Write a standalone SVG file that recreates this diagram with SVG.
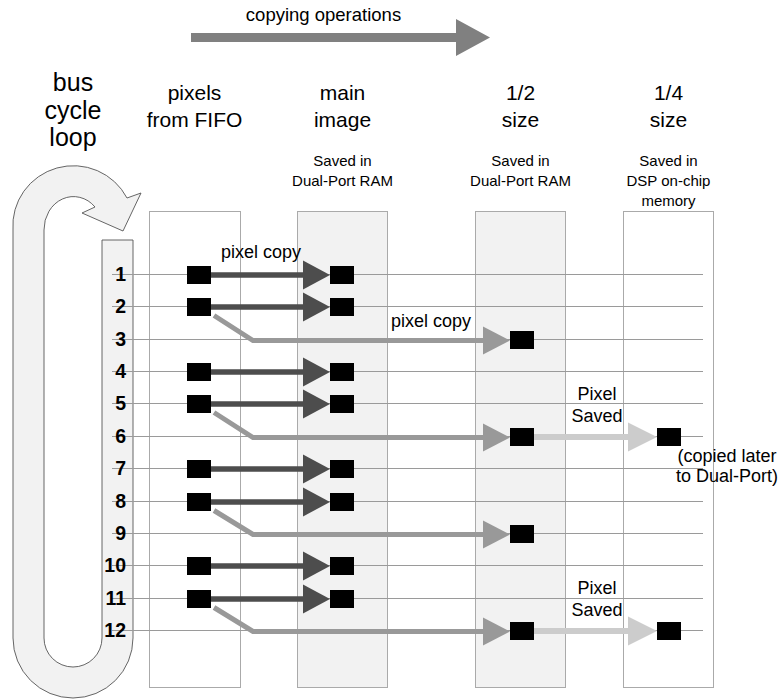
<svg xmlns="http://www.w3.org/2000/svg" width="780" height="700" viewBox="0 0 780 700">
<style>
text{font-family:"Liberation Sans",Arial,Helvetica,sans-serif;fill:#000}
.hd{font-size:21px;text-anchor:middle}
.bus{font-size:25px;text-anchor:middle}
.sub{font-size:15px;text-anchor:middle}
.lbl{font-size:18px;text-anchor:middle}
.num{font-size:19.5px;font-weight:bold;text-anchor:end}
.col{stroke:#aaaaaa;stroke-width:1}
.row{stroke:#9a9a9a;stroke-width:1}
.px{fill:#000}
.dk{fill:none;stroke:#4d4d4d;stroke-width:5.5}
.md{fill:none;stroke:#999999;stroke-width:5}
.lt{fill:none;stroke:#cccccc;stroke-width:6}
</style>
<defs>
<marker id="hDk" markerUnits="userSpaceOnUse" markerWidth="27" markerHeight="29" refX="1" refY="14.5" orient="auto" overflow="visible"><path d="M0,0 L27,14.5 L0,29 Z" fill="#4d4d4d"/></marker>
<marker id="hMd" markerUnits="userSpaceOnUse" markerWidth="27" markerHeight="28" refX="1" refY="14" orient="auto" overflow="visible"><path d="M0,0 L27,14 L0,28 Z" fill="#999999"/></marker>
<marker id="hLt" markerUnits="userSpaceOnUse" markerWidth="29" markerHeight="29" refX="1" refY="14.5" orient="auto" overflow="visible"><path d="M0,0 L29,14.5 L0,29 Z" fill="#cccccc"/></marker>
</defs>

<g id="top-arrow">
<path d="M191,33 H456 V19 L490,37.5 L456,56 V42 H191 Z" fill="#808080"/>
<text class="lbl" x="323.5" y="21" style="font-size:18.5px">copying operations</text>
</g>

<g id="bus-cycle-loop">
<path d="M102,240 H133 V638 A60,60 0 0 1 13,638 V230 A60.5,60 0 0 1 127,198 L141,193 L123,231 L82,213 L95,207 A29.5,33 0 0 0 44,230 V638 A29,29 0 0 0 102,638 Z" fill="#f2f2f2" stroke="#555555" stroke-width="0.9"/>
<text class="bus" x="73" y="91">bus</text>
<text class="bus" x="73" y="119">cycle</text>
<text class="bus" x="73" y="146">loop</text>
</g>

<g id="col-fifo">
<rect class="col" x="149.5" y="211.5" width="91" height="476" fill="#ffffff"/>
<text class="hd" x="194.5" y="100">pixels</text>
<text class="hd" x="194.5" y="127">from FIFO</text>
</g>
<g id="col-main">
<rect class="col" x="297.5" y="211.5" width="90" height="476" fill="#f2f2f2"/>
<text class="hd" x="342.5" y="100">main</text>
<text class="hd" x="342.5" y="127">image</text>
<text class="sub" x="342.5" y="166">Saved in</text>
<text class="sub" x="342.5" y="186">Dual-Port RAM</text>
</g>
<g id="col-half">
<rect class="col" x="475.5" y="211.5" width="90" height="476" fill="#f2f2f2"/>
<text class="hd" x="520.5" y="100">1/2</text>
<text class="hd" x="520.5" y="127">size</text>
<text class="sub" x="520.5" y="166">Saved in</text>
<text class="sub" x="520.5" y="186">Dual-Port RAM</text>
</g>
<g id="col-quarter">
<rect class="col" x="623.5" y="211.5" width="90" height="476" fill="#ffffff"/>
<text class="hd" x="668.5" y="100">1/4</text>
<text class="hd" x="668.5" y="127">size</text>
<text class="sub" x="668.5" y="166">Saved in</text>
<text class="sub" x="668.5" y="186">DSP on-chip</text>
<text class="sub" x="668.5" y="206">memory</text>
</g>

<g id="rows">
<line class="row" x1="112" y1="274.5" x2="703" y2="274.5"/>
<line class="row" x1="112" y1="306.5" x2="703" y2="306.5"/>
<line class="row" x1="112" y1="339.5" x2="703" y2="339.5"/>
<line class="row" x1="112" y1="371.5" x2="703" y2="371.5"/>
<line class="row" x1="112" y1="403.5" x2="703" y2="403.5"/>
<line class="row" x1="112" y1="436.5" x2="703" y2="436.5"/>
<line class="row" x1="112" y1="468.5" x2="703" y2="468.5"/>
<line class="row" x1="112" y1="501.5" x2="703" y2="501.5"/>
<line class="row" x1="112" y1="533.5" x2="703" y2="533.5"/>
<line class="row" x1="112" y1="565.5" x2="703" y2="565.5"/>
<line class="row" x1="112" y1="598.5" x2="703" y2="598.5"/>
<line class="row" x1="112" y1="630.5" x2="703" y2="630.5"/>
<text class="num" x="126" y="281">1</text>
<text class="num" x="126" y="313">2</text>
<text class="num" x="126" y="346">3</text>
<text class="num" x="126" y="378">4</text>
<text class="num" x="126" y="410">5</text>
<text class="num" x="126" y="443">6</text>
<text class="num" x="126" y="475">7</text>
<text class="num" x="126" y="508">8</text>
<text class="num" x="126" y="540">9</text>
<text class="num" x="126" y="572">10</text>
<text class="num" x="126" y="605">11</text>
<text class="num" x="126" y="637">12</text>
</g>

<g id="connectors">
<path class="dk" d="M211,275 H304" marker-end="url(#hDk)"/>
<path class="dk" d="M211,307 H304" marker-end="url(#hDk)"/>
<path class="dk" d="M211,372 H304" marker-end="url(#hDk)"/>
<path class="dk" d="M211,404 H304" marker-end="url(#hDk)"/>
<path class="dk" d="M211,469 H304" marker-end="url(#hDk)"/>
<path class="dk" d="M211,502 H304" marker-end="url(#hDk)"/>
<path class="dk" d="M211,566 H304" marker-end="url(#hDk)"/>
<path class="dk" d="M211,599 H304" marker-end="url(#hDk)"/>
<path class="md" d="M214,315.5 L253,340.5 H484" marker-end="url(#hMd)"/>
<path class="md" d="M214,412.5 L253,437.5 H484" marker-end="url(#hMd)"/>
<path class="md" d="M214,510.5 L253,534.5 H484" marker-end="url(#hMd)"/>
<path class="md" d="M214,607.5 L253,631.5 H484" marker-end="url(#hMd)"/>
<path class="lt" d="M534,437 H629" marker-end="url(#hLt)"/>
<path class="lt" d="M534,631 H629" marker-end="url(#hLt)"/>
<text class="lbl" x="261" y="258">pixel copy</text>
<text class="lbl" x="431" y="327">pixel copy</text>
<text class="lbl" x="597" y="400">Pixel</text>
<text class="lbl" x="597" y="421.5">Saved</text>
<text class="lbl" x="597" y="594">Pixel</text>
<text class="lbl" x="597" y="615.5">Saved</text>
</g>

<g id="pixels">
<rect class="px" x="187" y="266" width="24" height="18"/>
<rect class="px" x="187" y="298" width="24" height="18"/>
<rect class="px" x="187" y="363" width="24" height="18"/>
<rect class="px" x="187" y="395" width="24" height="18"/>
<rect class="px" x="187" y="460" width="24" height="18"/>
<rect class="px" x="187" y="493" width="24" height="18"/>
<rect class="px" x="187" y="557" width="24" height="18"/>
<rect class="px" x="187" y="590" width="24" height="18"/>
<rect class="px" x="330" y="266" width="24" height="18"/>
<rect class="px" x="330" y="298" width="24" height="18"/>
<rect class="px" x="330" y="363" width="24" height="18"/>
<rect class="px" x="330" y="395" width="24" height="18"/>
<rect class="px" x="330" y="460" width="24" height="18"/>
<rect class="px" x="330" y="493" width="24" height="18"/>
<rect class="px" x="330" y="557" width="24" height="18"/>
<rect class="px" x="330" y="590" width="24" height="18"/>
<rect class="px" x="510" y="331" width="24" height="18"/>
<rect class="px" x="510" y="428" width="24" height="18"/>
<rect class="px" x="510" y="525" width="24" height="18"/>
<rect class="px" x="510" y="622" width="24" height="18"/>
<rect class="px" x="657" y="428" width="24" height="18"/>
<rect class="px" x="657" y="622" width="24" height="18"/>
</g>

<g id="note">
<text class="lbl" x="727" y="462">(copied later</text>
<text class="lbl" x="727" y="482">to Dual-Port)</text>
</g>
</svg>
